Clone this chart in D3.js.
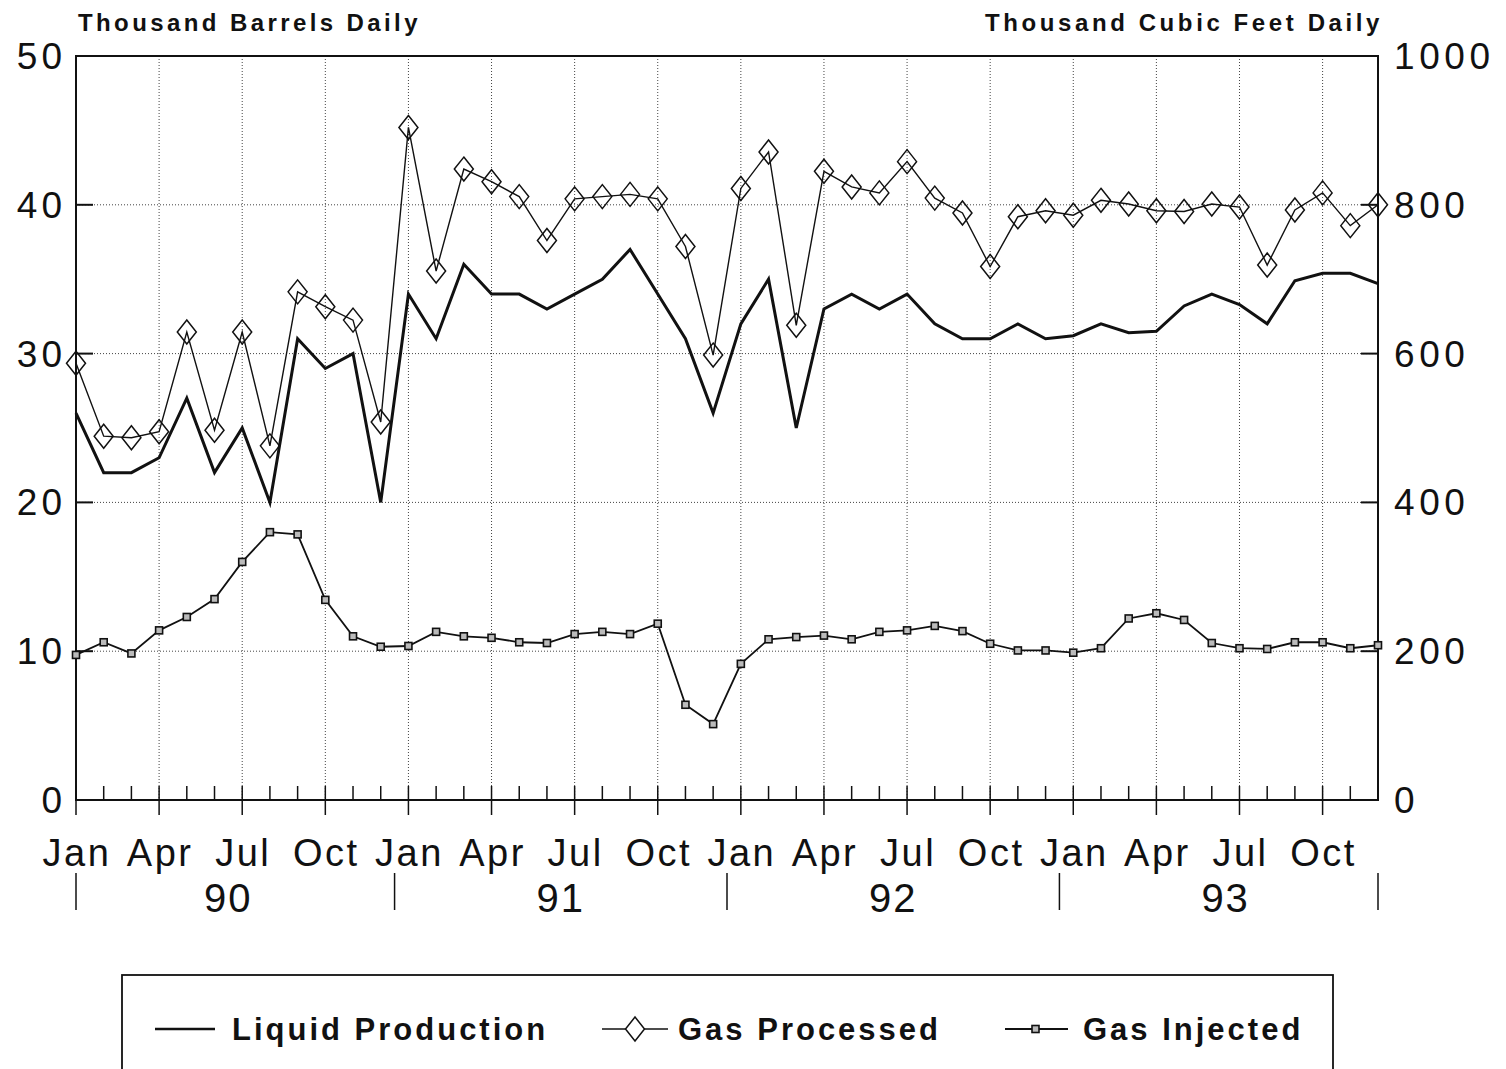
<!DOCTYPE html>
<html>
<head>
<meta charset="utf-8">
<script src="https://cdn.jsdelivr.net/npm/d3@7"></script>
<style>
  body { margin: 0; background: #fff; }
  text { font-family: "Liberation Sans", Arial, sans-serif; fill: #111; }
</style>
</head>
<body>
<svg id="chart" width="1506" height="1069"></svg>
<script>
const years = ["90", "91", "92", "93"];
const monthNames = ["Jan", "Feb", "Mar", "Apr", "May", "Jun", "Jul", "Aug", "Sep", "Oct", "Nov", "Dec"];
const quarterLabels = ["Jan", "Apr", "Jul", "Oct"];
const leftTicks = [0, 10, 20, 30, 40, 50];
const rightTicks = [0, 200, 400, 600, 800, 1000];

// thousand barrels daily
const liquidProduction = [
    26, 22, 22, 23, 27, 22, 25, 20, 31, 29, 30, 20,
    34, 31, 36, 34, 34, 33, 34, 35, 37, 34, 31, 26,
    32, 35, 25, 33, 34, 33, 34, 32, 31, 31, 32, 31,
    31.2, 32, 31.4, 31.5, 33.2, 34, 33.3, 32, 34.9, 35.4, 35.4, 34.7
];
// thousand cubic feet daily
const gasProcessed = [
    587, 489, 487, 495, 629, 497, 629, 476, 683, 663, 645, 508,
    904, 711, 848, 831, 811, 752, 808, 811, 814, 808, 744, 598,
    822, 871, 638, 845, 824, 816, 858, 809, 789, 717, 784, 792,
    786, 806, 801, 792, 791, 801, 797, 719, 793, 816, 772, 800
];
const gasInjected = [
    195, 212, 197, 228, 246, 270, 320, 360, 357, 269, 220, 206,
    207, 226, 220, 218, 212, 211, 223, 226, 223, 237, 128, 102,
    183, 216, 219, 221, 216, 226, 228, 234, 227, 210, 201, 201,
    198, 204, 244, 251, 242, 211, 204, 203, 212, 212, 204, 208
];

const categories = years.flatMap(y => monthNames.map(m => m + " " + y));

const plot = { left: 76, right: 1378, top: 56, bottom: 800 };
const svg = d3.select("#chart");

const x = d3.scaleLinear().domain([0, categories.length - 1]).range([plot.left, plot.right]);
const yL = d3.scaleLinear().domain([0, 50]).range([plot.bottom, plot.top]);
const yR = d3.scaleLinear().domain([0, 1000]).range([plot.bottom, plot.top]);

const quarterIdx = categories.map((c, i) => i).filter(i => quarterLabels.includes(categories[i].split(" ")[0]));

// grid
const grid = svg.append("g")
    .attr("stroke", "#444")
    .attr("stroke-width", 1)
    .attr("stroke-dasharray", "1,2");
grid.selectAll(".hg")
    .data(leftTicks.filter(d => d > 0 && d < 50))
    .enter().append("line")
    .attr("x1", plot.left).attr("x2", plot.right)
    .attr("y1", d => yL(d)).attr("y2", d => yL(d));
grid.selectAll(".vg")
    .data(quarterIdx.filter(i => i > 0))
    .enter().append("line")
    .attr("x1", d => x(d)).attr("x2", d => x(d))
    .attr("y1", plot.top).attr("y2", plot.bottom);

// frame
svg.append("rect")
    .attr("x", plot.left).attr("y", plot.top)
    .attr("width", plot.right - plot.left).attr("height", plot.bottom - plot.top)
    .attr("fill", "none")
    .attr("stroke", "#111")
    .attr("stroke-width", 2);

// inner ticks on the value axes
const ticks = svg.append("g").attr("stroke", "#111").attr("stroke-width", 2);
ticks.selectAll(".lt")
    .data(leftTicks)
    .enter().append("line")
    .attr("x1", plot.left).attr("x2", plot.left + 17)
    .attr("y1", d => yL(d)).attr("y2", d => yL(d));
ticks.selectAll(".rt")
    .data(rightTicks)
    .enter().append("line")
    .attr("x1", plot.right - 17).attr("x2", plot.right)
    .attr("y1", d => yR(d)).attr("y2", d => yR(d));

// month ticks and quarter ticks
ticks.selectAll(".mt")
    .data(categories.map((c, i) => i))
    .enter().append("line")
    .attr("stroke-width", 1.5)
    .attr("x1", d => x(d)).attr("x2", d => x(d))
    .attr("y1", plot.bottom - 14)
    .attr("y2", d => quarterIdx.includes(d) ? plot.bottom + 15 : plot.bottom);

// value labels
svg.append("g").selectAll("text")
    .data(leftTicks)
    .enter().append("text")
    .attr("x", 66)
    .attr("y", d => yL(d) + 13)
    .attr("text-anchor", "end")
    .style("font-size", "37px")
    .style("letter-spacing", "4px")
    .text(d => d);

svg.append("g").selectAll("text")
    .data(rightTicks)
    .enter().append("text")
    .attr("x", 1394)
    .attr("y", d => yR(d) + 13)
    .style("font-size", "37px")
    .style("letter-spacing", "4.6px")
    .text(d => d);

// quarter labels
svg.append("g").selectAll("text")
    .data(quarterIdx)
    .enter().append("text")
    .attr("x", d => x(d) + 1)
    .attr("y", 866)
    .attr("text-anchor", "middle")
    .style("font-size", "38px")
    .style("letter-spacing", "2.5px")
    .text(d => categories[d].split(" ")[0]);

// year separators and labels
const sepIdx = [0].concat(years.slice(1).map((y, i) => (i + 1) * 12 - 0.5), [categories.length - 1]);
svg.append("g").selectAll("line")
    .data(sepIdx)
    .enter().append("line")
    .attr("x1", d => x(d)).attr("x2", d => x(d))
    .attr("y1", 873).attr("y2", 910)
    .attr("stroke", "#111")
    .attr("stroke-width", 1.5);

svg.append("g").selectAll("text")
    .data(years)
    .enter().append("text")
    .attr("x", (d, i) => x(i * 12 + 5.5))
    .attr("y", 912)
    .attr("text-anchor", "middle")
    .style("font-size", "40px")
    .style("letter-spacing", "2px")
    .text(d => d);

// axis titles
svg.append("text")
    .attr("x", 78)
    .attr("y", 31)
    .style("font-size", "24px")
    .style("font-weight", "bold")
    .style("letter-spacing", "3.4px")
    .text("Thousand Barrels Daily");

svg.append("text")
    .attr("x", 1383)
    .attr("y", 31)
    .attr("text-anchor", "end")
    .style("font-size", "24px")
    .style("font-weight", "bold")
    .style("letter-spacing", "3.6px")
    .text("Thousand Cubic Feet Daily");

// series
const lineL = d3.line().x((d, i) => x(i)).y(d => yL(d));
const lineR = d3.line().x((d, i) => x(i)).y(d => yR(d));

svg.append("path")
    .datum(liquidProduction)
    .attr("d", lineL)
    .attr("fill", "none")
    .attr("stroke", "#111")
    .attr("stroke-width", 3)
    .attr("stroke-linejoin", "miter");

svg.append("path")
    .datum(gasProcessed)
    .attr("d", lineR)
    .attr("fill", "none")
    .attr("stroke", "#111")
    .attr("stroke-width", 1.4);

const diamond = "M0,-12L9.5,0L0,12L-9.5,0Z";
svg.append("g").selectAll("path")
    .data(gasProcessed)
    .enter().append("path")
    .attr("d", diamond)
    .attr("transform", (d, i) => "translate(" + x(i) + "," + yR(d) + ")")
    .attr("fill", "none")
    .attr("stroke", "#111")
    .attr("stroke-width", 1.5);

svg.append("path")
    .datum(gasInjected)
    .attr("d", lineR)
    .attr("fill", "none")
    .attr("stroke", "#111")
    .attr("stroke-width", 1.8);

svg.append("g").selectAll("rect")
    .data(gasInjected)
    .enter().append("rect")
    .attr("x", (d, i) => x(i) - 3.5)
    .attr("y", d => yR(d) - 3.5)
    .attr("width", 7).attr("height", 7)
    .attr("fill", "#bbb")
    .attr("stroke", "#111")
    .attr("stroke-width", 1.6);

// legend
const legend = svg.append("g");
legend.append("rect")
    .attr("x", 122).attr("y", 975)
    .attr("width", 1211).attr("height", 140)
    .attr("fill", "none")
    .attr("stroke", "#111")
    .attr("stroke-width", 1.8);

const ly = 1029;
legend.append("line")
    .attr("x1", 155).attr("x2", 215).attr("y1", ly).attr("y2", ly)
    .attr("stroke", "#111").attr("stroke-width", 2.5);
legend.append("line")
    .attr("x1", 602).attr("x2", 668).attr("y1", ly).attr("y2", ly)
    .attr("stroke", "#111").attr("stroke-width", 1.4);
legend.append("path")
    .attr("d", diamond)
    .attr("transform", "translate(635," + ly + ")")
    .attr("fill", "#fff")
    .attr("stroke", "#111")
    .attr("stroke-width", 1.5);
legend.append("line")
    .attr("x1", 1005).attr("x2", 1068).attr("y1", ly).attr("y2", ly)
    .attr("stroke", "#111").attr("stroke-width", 1.8);
legend.append("rect")
    .attr("x", 1032).attr("y", ly - 3.5)
    .attr("width", 7).attr("height", 7)
    .attr("fill", "#bbb")
    .attr("stroke", "#111")
    .attr("stroke-width", 1.6);

const legendItems = [
    { label: "Liquid Production", x: 232 },
    { label: "Gas Processed", x: 678 },
    { label: "Gas Injected", x: 1083 }
];
legend.selectAll(".lt")
    .data(legendItems)
    .enter().append("text")
    .attr("x", d => d.x)
    .attr("y", 1040)
    .style("font-size", "31px")
    .style("font-weight", "bold")
    .style("letter-spacing", "3px")
    .text(d => d.label);
</script>
</body>
</html>
